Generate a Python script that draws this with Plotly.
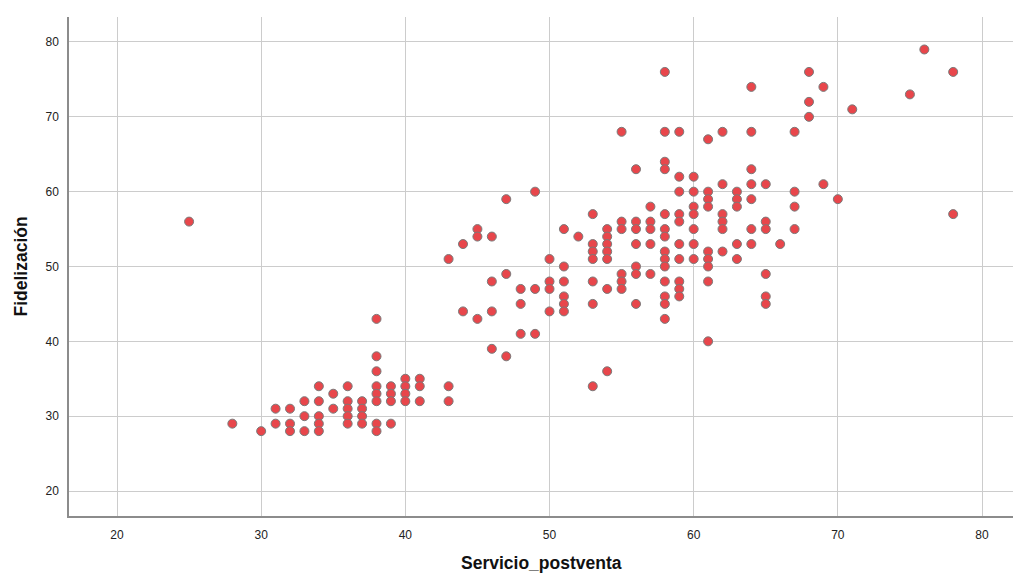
import plotly.graph_objects as go

servicio_postventa = [
    25, 28, 30, 31, 31, 32, 32, 32, 33, 33, 33,
    34, 34, 34, 34, 34, 35, 35, 36, 36, 36, 36, 36,
    37, 37, 37, 37, 38, 38, 38, 38, 38, 38, 38, 38,
    39, 39, 39, 39, 40, 40, 40, 40, 41, 41, 41,
    43, 43, 43, 44, 44, 45, 45, 45, 46, 46, 46, 46,
    47, 47, 47, 48, 48, 48, 49, 49, 49, 50, 50, 50, 50,
    51, 51, 51, 51, 51, 51, 52,
    53, 53, 53, 53, 53, 53, 53, 54, 54, 54, 54, 54, 54, 54,
    55, 55, 55, 55, 55, 55, 56, 56, 56, 56, 56, 56, 56,
    57, 57, 57, 57, 57,
    58, 58, 58, 58, 58, 58, 58, 58, 58, 58, 58, 58, 58, 58,
    59, 59, 59, 59, 59, 59, 59, 59, 59, 59,
    60, 60, 60, 60, 60, 60, 60,
    61, 61, 61, 61, 61, 61, 61, 61, 61,
    62, 62, 62, 62, 62, 62, 63, 63, 63, 63, 63,
    64, 64, 64, 64, 64, 64, 64, 65, 65, 65, 65, 65, 65,
    66, 67, 67, 67, 67, 68, 68, 68, 69, 69, 70, 71, 75, 76, 78, 78,
]

fidelizacion = [
    56, 29, 28, 31, 29, 31, 29, 28, 32, 30, 28,
    34, 32, 30, 29, 28, 33, 31, 34, 32, 31, 30, 29,
    32, 31, 30, 29, 43, 38, 36, 34, 33, 32, 29, 28,
    34, 33, 32, 29, 35, 34, 33, 32, 35, 34, 32,
    51, 34, 32, 53, 44, 55, 54, 43, 54, 48, 44, 39,
    59, 49, 38, 47, 45, 41, 60, 47, 41, 51, 48, 47, 44,
    55, 50, 48, 46, 45, 44, 54,
    57, 53, 52, 51, 48, 45, 34, 55, 54, 53, 52, 51, 47, 36,
    68, 56, 55, 49, 48, 47, 63, 56, 55, 53, 50, 49, 45,
    58, 56, 55, 53, 49,
    76, 68, 64, 63, 57, 55, 54, 52, 51, 50, 48, 46, 45, 43,
    68, 62, 60, 57, 56, 53, 51, 48, 47, 46,
    62, 60, 58, 57, 55, 53, 51,
    67, 60, 59, 58, 52, 51, 50, 48, 40,
    68, 61, 57, 56, 55, 52, 60, 59, 58, 53, 51,
    74, 68, 63, 61, 59, 55, 53, 61, 56, 55, 49, 46, 45,
    53, 68, 60, 58, 55, 76, 72, 70, 74, 61, 59, 71, 73, 79, 76, 57,
]

x_ticks = [20, 30, 40, 50, 60, 70, 80]
y_ticks = [20, 30, 40, 50, 60, 70, 80]
x_title = "Servicio_postventa"
y_title = "Fidelización"

fig = go.Figure()
fig.add_trace(go.Scatter(
    x=servicio_postventa,
    y=fidelizacion,
    mode="markers",
    marker=dict(size=9, color="#e8464b",
                line=dict(color="#7a7a7a", width=1)),
    showlegend=False,
    hoverinfo="x+y",
))

font_family = "Arial, 'Liberation Sans', sans-serif"

axis_common = dict(
    tickmode="array",
    showgrid=True,
    gridcolor="#cccccc",
    gridwidth=1,
    zeroline=False,
    showline=True,
    linecolor="#8c8c8c",
    linewidth=1.5,
    ticks="",
    automargin=False,
    tickfont=dict(size=12, color="#222222"),
)

fig.update_layout(
    width=1015,
    height=573,
    margin=dict(l=69, r=2, t=17, b=57),
    paper_bgcolor="white",
    plot_bgcolor="white",
    font=dict(family=font_family, size=12, color="#222222"),
    xaxis=dict(
        range=[16.67, 82.15],
        tickvals=x_ticks,
        ticktext=[str(v) for v in x_ticks],
        ticklabelstandoff=7,
        **axis_common,
    ),
    yaxis=dict(
        range=[16.66, 83.34],
        tickvals=y_ticks,
        ticktext=[str(v) for v in y_ticks],
        ticklabelstandoff=6,
        **axis_common,
    ),
    annotations=[
        dict(text=f"<b>{x_title}</b>", xref="paper", yref="paper",
             x=0.5, y=-0.0942, xanchor="center", yanchor="middle",
             showarrow=False, font=dict(size=17.5, color="#111111")),
        dict(text=f"<b>{y_title}</b>", xref="paper", yref="paper",
             x=-0.0519, y=0.5, xanchor="center", yanchor="middle",
             textangle=-90, showarrow=False,
             font=dict(size=17.5, color="#111111")),
    ],
)

fig.write_html(
    "out.html",
    config={"displayModeBar": False},
    post_script="document.body.style.margin='0';document.body.style.overflow='hidden';",
)
